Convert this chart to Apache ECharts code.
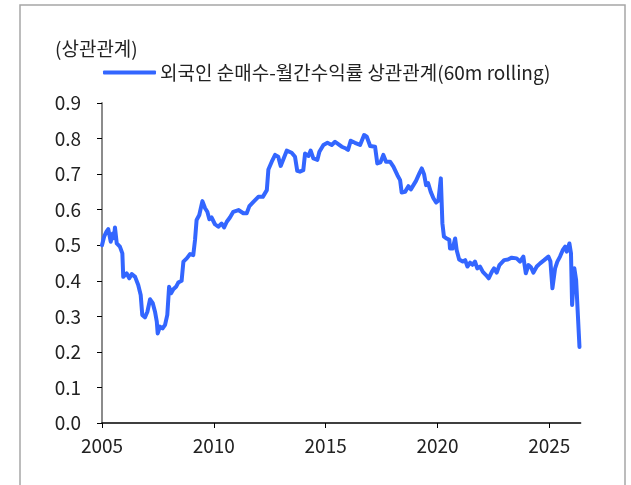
<!DOCTYPE html>
<html>
<head>
<meta charset="utf-8">
<script src="https://cdn.jsdelivr.net/npm/echarts@6/dist/echarts.min.js"></script>
<style>
  html, body { margin: 0; padding: 0; background: #fff; }
  #main { width: 631px; height: 485px; }
</style>
</head>
<body>
<div id="main"></div>
<script>
/*********** 데이터 ***********/
var seriesName = '외국인 순매수-월간수익률 상관관계(60m rolling)';
var unitLabel = '(상관관계)';
var yearTicks = [2005, 2010, 2015, 2020, 2025];

// 연도(소수) / 상관계수
var years = [
    2005.00, 2005.10, 2005.20, 2005.28, 2005.39, 2005.48, 2005.53, 2005.58, 2005.66, 2005.80,
    2005.91, 2005.95, 2006.03, 2006.10, 2006.22, 2006.33, 2006.48, 2006.62, 2006.73, 2006.80,
    2006.92, 2007.03, 2007.15, 2007.27, 2007.37, 2007.45, 2007.49, 2007.59, 2007.71, 2007.82,
    2007.92, 2008.00, 2008.09, 2008.19, 2008.31, 2008.41, 2008.56, 2008.64, 2008.79, 2008.94,
    2009.08, 2009.16, 2009.23, 2009.35, 2009.42, 2009.49, 2009.61, 2009.71, 2009.80, 2009.90,
    2010.05, 2010.20, 2010.35, 2010.46, 2010.58, 2010.72, 2010.87, 2011.10, 2011.32, 2011.47,
    2011.59, 2011.77, 2011.99, 2012.19, 2012.37, 2012.44, 2012.59, 2012.74, 2012.88, 2012.99,
    2013.11, 2013.26, 2013.48, 2013.63, 2013.73, 2013.85, 2014.00, 2014.08, 2014.23, 2014.33,
    2014.45, 2014.63, 2014.72, 2014.90, 2015.08, 2015.27, 2015.42, 2015.61, 2015.72, 2015.91,
    2016.00, 2016.12, 2016.31, 2016.54, 2016.72, 2016.84, 2016.99, 2017.21, 2017.31, 2017.45,
    2017.58, 2017.70, 2017.88, 2018.03, 2018.21, 2018.33, 2018.40, 2018.55, 2018.70, 2018.81,
    2019.04, 2019.19, 2019.30, 2019.40, 2019.49, 2019.58, 2019.70, 2019.82, 2019.94, 2020.04,
    2020.15, 2020.22, 2020.29, 2020.41, 2020.53, 2020.56, 2020.68, 2020.79, 2020.86, 2020.97,
    2021.13, 2021.24, 2021.34, 2021.46, 2021.57, 2021.68, 2021.78, 2021.90, 2022.03, 2022.17,
    2022.29, 2022.43, 2022.53, 2022.65, 2022.77, 2022.98, 2023.15, 2023.32, 2023.54, 2023.69,
    2023.84, 2023.95, 2024.07, 2024.18, 2024.29, 2024.44, 2024.59, 2024.77, 2024.96, 2025.05,
    2025.14, 2025.26, 2025.36, 2025.48, 2025.60, 2025.71, 2025.78, 2025.90, 2025.97, 2026.02,
    2026.08, 2026.12, 2026.20, 2026.35
];
var corr = [
    0.500, 0.525, 0.538, 0.545, 0.510, 0.533, 0.520, 0.550, 0.505, 0.496,
    0.477, 0.411, 0.410, 0.421, 0.407, 0.419, 0.411, 0.388, 0.360, 0.304,
    0.297, 0.313, 0.348, 0.337, 0.313, 0.285, 0.252, 0.271, 0.266, 0.276,
    0.304, 0.383, 0.365, 0.376, 0.383, 0.395, 0.400, 0.454, 0.463, 0.475,
    0.472, 0.515, 0.571, 0.585, 0.580, 0.624, 0.604, 0.594, 0.573, 0.578,
    0.559, 0.552, 0.561, 0.550, 0.566, 0.578, 0.594, 0.599, 0.590, 0.590,
    0.610, 0.622, 0.636, 0.636, 0.655, 0.713, 0.735, 0.754, 0.749, 0.723,
    0.742, 0.766, 0.760, 0.749, 0.709, 0.707, 0.711, 0.758, 0.751, 0.766,
    0.744, 0.740, 0.763, 0.782, 0.788, 0.782, 0.791, 0.782, 0.777, 0.772,
    0.768, 0.794, 0.788, 0.782, 0.810, 0.805, 0.779, 0.777, 0.730, 0.733,
    0.754, 0.735, 0.735, 0.721, 0.697, 0.683, 0.648, 0.650, 0.666, 0.657,
    0.681, 0.702, 0.716, 0.700, 0.669, 0.675, 0.650, 0.632, 0.620, 0.625,
    0.688, 0.562, 0.524, 0.519, 0.515, 0.491, 0.491, 0.519, 0.486, 0.460,
    0.454, 0.458, 0.440, 0.451, 0.445, 0.454, 0.435, 0.440, 0.425, 0.416,
    0.407, 0.425, 0.435, 0.423, 0.444, 0.458, 0.460, 0.465, 0.463, 0.454,
    0.468, 0.421, 0.444, 0.438, 0.423, 0.440, 0.449, 0.458, 0.468, 0.455,
    0.379, 0.435, 0.454, 0.468, 0.486, 0.496, 0.482, 0.505, 0.477, 0.332,
    0.327, 0.435, 0.402, 0.214
];

var seriesData = years.map(function(y, i) { return [y, corr[i]]; });

/*********** 차트 ***********/
var FONT = '"Noto Sans CJK KR", "Noto Sans", sans-serif';
var myChart = echarts.init(document.getElementById('main'), null, { renderer: 'canvas' });

var option = {
    backgroundColor: '#fff',
    animation: false,
    title: {
        text: unitLabel,
        left: 50,
        top: 34,
        textStyle: { fontFamily: FONT, fontSize: 19, fontWeight: 'normal', color: '#222' }
    },
    legend: {
        data: [seriesName],
        left: 98,
        top: 58,
        icon: 'roundRect',
        itemWidth: 53,
        itemHeight: 4,
        itemGap: 5,
        textStyle: { fontFamily: FONT, fontSize: 19, color: '#222', padding: [0, 0, 0, -1] }
    },
    grid: { left: 102, right: 50.4, top: 103, bottom: 62 },
    xAxis: {
        type: 'value',
        min: 2005,
        max: 2026.4,
        interval: 5,
        axisLine: { lineStyle: { color: '#000', width: 1.5 } },
        axisTick: { show: true, length: 5, customValues: yearTicks, lineStyle: { color: '#000' } },
        axisLabel: {
            customValues: yearTicks,
            margin: 13,
            fontFamily: FONT, fontSize: 19, color: '#222',
            formatter: function(v) { return String(v); }
        },
        splitLine: { show: false }
    },
    yAxis: {
        type: 'value',
        min: 0,
        max: 0.9,
        interval: 0.1,
        axisLine: { show: true, lineStyle: { color: '#8c8c8c', width: 2 } },
        axisTick: { show: true, length: 5, lineStyle: { color: '#000' } },
        axisLabel: {
            margin: 21,
            fontFamily: FONT, fontSize: 19, color: '#222',
            formatter: function(v) { return v.toFixed(1); }
        },
        splitLine: { show: false }
    },
    graphic: [{
        type: 'rect',
        shape: { x: 20, y: 5, width: 605, height: 500 },
        style: { fill: 'none', stroke: '#a6a6a6', lineWidth: 1.5 },
        silent: true
    }],
    series: [{
        name: seriesName,
        type: 'line',
        data: seriesData,
        showSymbol: false,
        smooth: false,
        lineStyle: { color: '#3366ff', width: 4, cap: 'round', join: 'round' },
        itemStyle: { color: '#3366ff' }
    }]
};

myChart.setOption(option);
</script>
</body>
</html>
